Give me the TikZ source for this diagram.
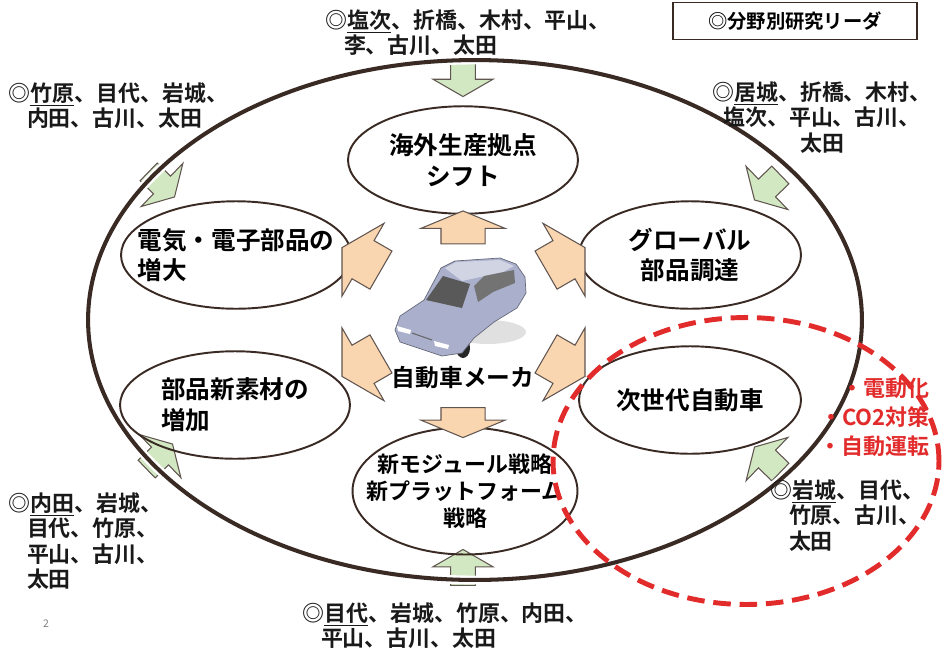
\documentclass[tikz,border=0pt]{standalone}
\usepackage{fontspec}
\setmainfont{Noto Sans CJK JP}[BoldFont={Noto Sans CJK JP Bold}]
\usetikzlibrary{shapes.geometric,shapes.arrows}
\definecolor{edge}{HTML}{3A2A24}
\definecolor{peach}{HTML}{F9D5B0}
\definecolor{leaf}{HTML}{D2E8C2}
\definecolor{alert}{HTML}{E22B2B}
\definecolor{carbody}{HTML}{AAB0CC}
\newcommand{\ldr}[1]{\underline{#1}}

\begin{document}
\begin{tikzpicture}[x=0.02cm, y=-0.02cm,
    topic/.style={ellipse, draw=edge, line width=1.1pt, minimum width=4.6cm, minimum height=2.15cm, inner sep=0pt},
    topictext/.style={inner sep=0pt, align=center, font=\bfseries\fontsize{14}{17.5}\selectfont},
    names/.style={inner sep=0pt, align=left, anchor=north west, text=black!90, font=\bfseries\fontsize{12.5}{14.5}\selectfont},
    push/.style={single arrow, draw=edge!80, line width=0.6pt, fill=peach, minimum width=1.66cm, single arrow head extend=0.4cm, single arrow tip angle=120, minimum height=0.9cm, inner xsep=0pt, inner ysep=0.43cm},
    feed/.style={single arrow, draw=edge!80, line width=0.6pt, fill=leaf, minimum width=1.2cm, single arrow head extend=0.26cm, single arrow tip angle=120, minimum height=0.72cm, inner xsep=0pt, inner ysep=0.17cm}]
    \useasboundingbox (0,0) rectangle (943,653);

    % Inflow arrows from the research groups
    \node[feed, rotate=-90] (fin1) at (463,75) {};
    \node[feed, rotate=90] (fin2) at (463,571) {};
    \node[feed, rotate=-44] (fin3) at (159,182) {};
    \node[feed, rotate=-136] (fin4) at (770,185) {};
    \node[feed, rotate=44] (fin5) at (157,459) {};
    \node[feed, rotate=136] (fin6) at (770,462) {};

    % Outer ring
    \node[ellipse, draw=edge, line width=2.3pt, preaction={draw=white, line width=5pt},
          minimum width=15.48cm, minimum height=10.4cm] (ring) at (475,320) {};

    % Topics
    \node[topic] (shift) at (463,160) {};
    \node[topictext] (shift-t) at (shift) {海外生産拠点\\シフト};
    \node[topic] (elec) at (236,255) {};
    \node[topictext, align=left] (elec-t) at (elec) {電気・電子部品の\\増大};
    \node[topic, minimum width=4.44cm] (global) at (690,255) {};
    \node[topictext] (global-t) at (global) {グローバル\\部品調達};
    \node[topic] (material) at (235,405) {};
    \node[topictext, align=left] (material-t) at (material) {部品新素材の\\増加};
    \node[topic, minimum width=4.44cm] (nextgen) at (690,400) {};
    \node[topictext] (nextgen-t) at (nextgen) {次世代自動車};
    \node[topic, minimum width=4.5cm, minimum height=2.54cm] (module) at (465,491) {};
    \node[topictext, font=\bfseries\fontsize{12.5}{15.2}\selectfont] (module-t) at (module)
          {新モジュール戦略\\新プラットフォーム\\戦略};

    % Car
    \fill[black!12] (488,332) ellipse [x radius=38, y radius=12];
    \fill[black!85] (463,348) ellipse [x radius=7, y radius=10];
    \fill[black!85] (517,296) ellipse [x radius=5, y radius=8];
    \draw[fill=carbody, draw=carbody!60!black, line width=0.4pt] (395,330) -- (400,316) -- (424,300)
        -- (441,268) -- (455,261) -- (500,258) -- (516,264) -- (525,277) -- (526,293) -- (517,308)
        -- (494,322) -- (474,338) -- (462,353) -- (442,356) -- (400,342) -- cycle;
    \fill[carbody!55!white] (445,268) -- (456,262) -- (500,260) -- (514,266) -- (503,272) -- (462,281) -- cycle;
    \fill[black!65] (426,300) -- (443,276) -- (470,284) -- (462,308) -- cycle;
    \fill[black!55] (474,286) -- (484,276) -- (514,270) -- (515,283) -- (493,292) -- (478,302) -- cycle;
    \fill[white] (397,326) -- (411,330) -- (410,334) -- (398,331) -- cycle;
    \fill[white] (434,341) -- (449,345) -- (448,349) -- (435,346) -- cycle;
    \draw[black!60, line width=0.6pt] (412,333) -- (432,340);
    \node[font=\bfseries\fontsize{13.5}{16}\selectfont, inner sep=0pt] (maker) at (463,378) {自動車メーカ};

    % Arrows out of the maker
    \node[push, rotate=90, minimum height=0.66cm, single arrow tip angle=135] (out1) at (463,232) {};
    \node[push, rotate=-90, minimum height=0.6cm, single arrow tip angle=135] (out2) at (463,418) {};
    \node[push, rotate=150] (out3) at (367,262) {};
    \node[push, rotate=30] (out4) at (560,262) {};
    \node[push, rotate=-150] (out5) at (367,362) {};
    \node[push, rotate=-30] (out6) at (560,362) {};

    % Research leaders
    \node[names] (grp1) at (325,9) {◎\ldr{塩次}、折橋、木村、平山、\\\hspace*{0.85em}李、古川、太田};
    \node[names] (grp2) at (8,82) {◎\ldr{竹原}、目代、岩城、\\\hspace*{0.85em}内田、古川、太田};
    \node[names, align=center, anchor=north] (grp3) at (822,81) {◎\ldr{居城}、折橋、木村、\\塩次、平山、古川、\\太田};
    \node[names] (grp4) at (8,492) {◎\ldr{内田}、岩城、\\\hspace*{0.85em}目代、竹原、\\\hspace*{0.85em}平山、古川、\\\hspace*{0.85em}太田};
    \node[names] (grp5) at (770,479) {◎\ldr{岩城}、目代、\\\hspace*{0.85em}竹原、古川、\\\hspace*{0.85em}太田};
    \node[names] (grp6) at (302,602) {◎\ldr{目代}、岩城、竹原、内田、\\\hspace*{0.85em}平山、古川、太田};

    % Next-generation themes
    \node[ellipse, draw=alert, line width=2.8pt, dash pattern=on 10pt off 5pt,
          minimum width=7.72cm, minimum height=5.74cm] (focus) at (746,461) {};
    \node[anchor=north east, align=right, text=alert, inner sep=0pt,
          font=\bfseries\fontsize{12.5}{16.5}\selectfont] (trend) at (930,378) {・電動化\\・CO2対策\\・自動運転};

    % Legend and page number
    \node[draw=edge, line width=1.1pt, minimum width=4.88cm, minimum height=0.74cm,
          font=\bfseries\fontsize{11}{13}\selectfont] (legend) at (795,21) {◎分野別研究リーダ};
    \node[text=black!50, font=\fontsize{6}{7}\selectfont] (pageno) at (46,624) {2};
\end{tikzpicture}
\end{document}
